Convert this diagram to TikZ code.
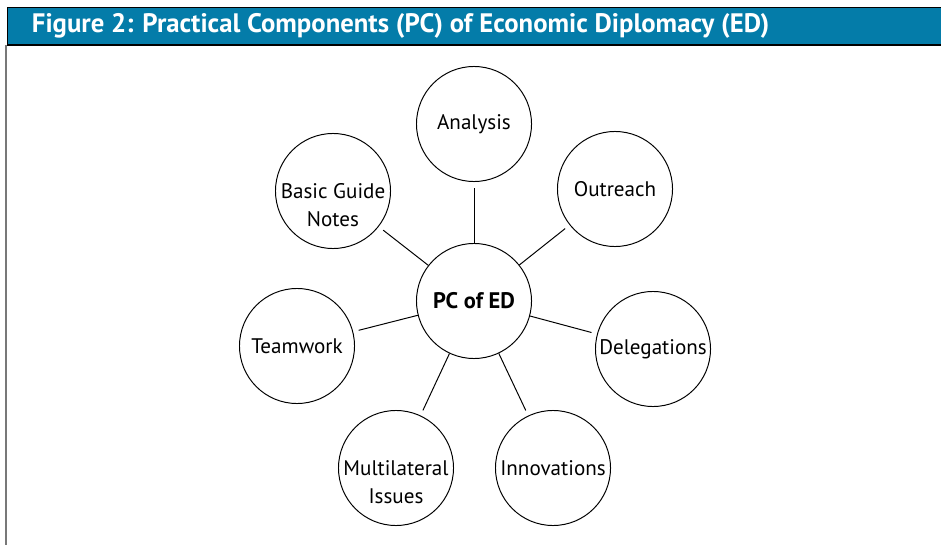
\documentclass[tikz,border=0pt]{standalone}
\usepackage{fontspec}
\setmainfont{PT Sans}
\usepackage{xcolor}
\usetikzlibrary{positioning}

\definecolor{headblue}{RGB}{4,124,169}
\definecolor{framegray}{RGB}{120,120,120}

% two-line circle text, first line on the circle's centre
\newcommand{\twolines}[2]{\raisebox{-5pt}[0pt][0pt]{\begin{tabular}[t]{@{}c@{}}#1\\#2\end{tabular}}}

\begin{document}
\begin{tikzpicture}[x=0.025cm, y=-0.025cm,
        topic/.style={draw, circle, line width=0.7pt, minimum size=2.875cm, inner sep=0pt,
            align=center, font=\fontsize{15}{20}\selectfont},
        hub/.style={topic, font=\fontsize{16}{20}\selectfont\bfseries},
        link/.style={line width=0.7pt, shorten >=4pt}
    ]
        \useasboundingbox (0,0) rectangle (941,545);

        % title bar
        \fill [headblue] (7,7) rectangle (941,45);
        \draw [line width=0.6pt] (941,7) -- (7,7) -- (7,45);
        \draw [line width=1.4pt] (7,45) -- (941,45);
        \draw [framegray, line width=1pt] (6,45) -- (6,545);
        \node [anchor=west, text=white, font=\fontsize{19}{22}\selectfont\bfseries] (title) at (27,26)
            {Figure 2: Practical Components (PC) of Economic Diplomacy (ED)};

        \node [hub] (pc) at (474,301) {PC of ED};
        \node [topic] (analysis) at (474,124) {Analysis};
        \node [topic] (outreach) at (615,189) {Outreach};
        \node [topic] (deleg) at (653,349) {Delegations};
        \node [topic] (innov) at (553,468) {Innovations};
        \node [topic] (multi) at (396,468) {\twolines{Multilateral}{Issues}};
        \node [topic] (team) at (297,346) {Teamwork};
        \node [topic] (guide) at (333,191) {\twolines{Basic Guide}{Notes}};

        \foreach \t in {analysis,outreach,deleg,innov,multi,team,guide}
            \draw [link] (pc) -- (\t);

    \end{tikzpicture}
\end{document}
